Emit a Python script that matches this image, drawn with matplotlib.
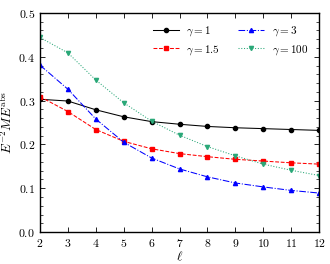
import matplotlib
matplotlib.use("Agg")
import matplotlib.pyplot as plt
from matplotlib.ticker import MultipleLocator

plt.rcParams['font.family'] = 'serif'
plt.rcParams['font.serif'] = ['cmr10', 'DejaVu Serif']
plt.rcParams['mathtext.fontset'] = 'cm'
plt.rcParams['axes.formatter.use_mathtext'] = True
plt.rcParams['axes.unicode_minus'] = False

ell = [2, 3, 4, 5, 6, 7, 8, 9, 10, 11, 12]
g1 = [0.303, 0.299, 0.279, 0.263, 0.252, 0.246, 0.241, 0.238, 0.236, 0.234, 0.232]
g15 = [0.309, 0.275, 0.234, 0.207, 0.190, 0.179, 0.172, 0.166, 0.162, 0.158, 0.155]
g3 = [0.381, 0.326, 0.258, 0.205, 0.169, 0.144, 0.126, 0.112, 0.103, 0.095, 0.089]
g100 = [0.444, 0.409, 0.347, 0.295, 0.253, 0.221, 0.195, 0.174, 0.155, 0.141, 0.129]
labels = [r'$\gamma = 1$', r'$\gamma = 1.5$', r'$\gamma = 3$', r'$\gamma = 100$']

fig = plt.figure(figsize=(3.3, 2.64), dpi=100)
ax = fig.add_axes([0.121, 0.121, 0.846, 0.830])

kw = dict(ms=3.0, lw=0.75)
ax.plot(ell, g1, '-', color='black', marker='o', label=labels[0], **kw)
ax.plot(ell, g15, '--', color='red', marker='s', label=labels[1], **kw)
ax.plot(ell, g3, '-.', color='blue', marker='^', label=labels[2], **kw)
ax.plot(ell, g100, ':', color='#2aa878', marker='v', label=labels[3], **kw)

ax.set_xlim(2, 12)
ax.set_ylim(0, 0.5)
ax.xaxis.set_major_locator(MultipleLocator(1))
ax.yaxis.set_major_locator(MultipleLocator(0.1))
ax.yaxis.set_minor_locator(MultipleLocator(0.02))
ax.tick_params(which='both', direction='in', top=True, right=True, labelsize=8.5)
ax.tick_params(which='major', length=3.5, width=0.6)
ax.tick_params(which='minor', length=2, width=0.5)
for s in ax.spines.values():
    s.set_linewidth(1.0)

ax.set_xlabel(r'$\ell$', fontsize=9.5, labelpad=1)
ax.set_ylabel(r'$E^{-2} M E^{\rm abs}$', fontsize=9.5, labelpad=2)

ax.legend(ncol=2, loc='upper right', frameon=False, fontsize=8,
          handlelength=2.3, handletextpad=0.7, columnspacing=1.6,
          labelspacing=0.45, borderaxespad=0.6)

fig.savefig('out.png', dpi=100)
